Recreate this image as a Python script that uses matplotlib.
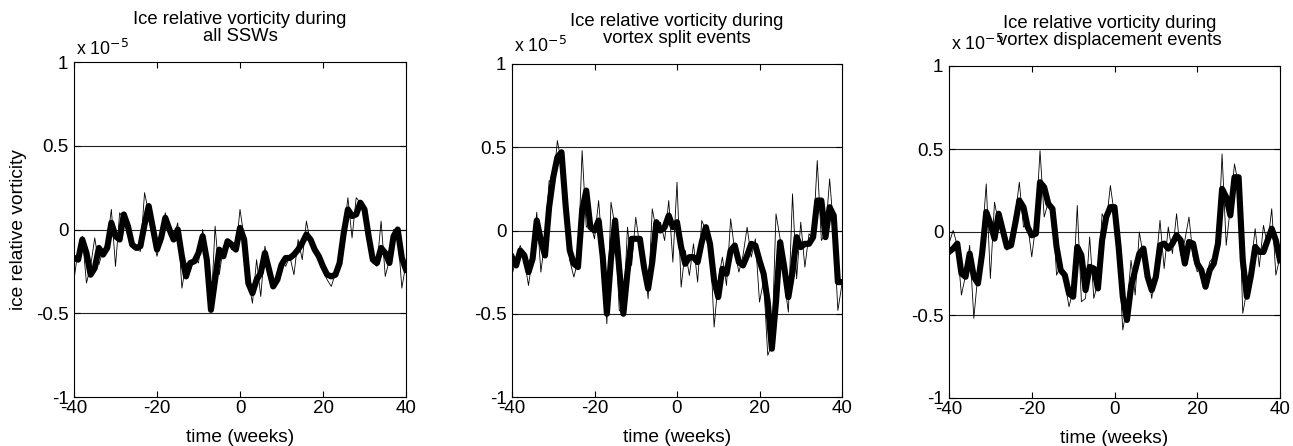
import matplotlib
matplotlib.use('Agg')
import matplotlib.pyplot as plt
import numpy as np

plt.rcParams['font.family'] = ['Liberation Sans', 'DejaVu Sans']
plt.rcParams['axes.unicode_minus'] = False

# weeks relative to the SSW central date
weeks = np.arange(-40, 41)

# all SSWs (units of 1e-5)
all_thin = [-0.30, -0.12, -0.04, -0.32, -0.22, -0.05, -0.21, -0.12, -0.08, 0.12,
            -0.22, 0.10, 0.06, -0.04, -0.10, -0.12, -0.13, 0.22, 0.10, -0.04,
            -0.16, -0.05, 0.10, -0.04, -0.05, 0.04, -0.35, -0.20, -0.25, -0.17,
            -0.20, 0.00, -0.20, -0.49, 0.02, -0.27, -0.10, -0.08, -0.12, -0.13,
            0.12, -0.05, -0.30, -0.44, -0.18, -0.40, -0.10, -0.22, -0.33, -0.30,
            -0.18, -0.22, -0.16, -0.27, -0.06, -0.18, 0.05, -0.08, -0.14, -0.18,
            -0.24, -0.30, -0.34, -0.26, -0.18, -0.02, 0.19, -0.05, 0.19, 0.16,
            0.10, -0.02, -0.20, -0.22, 0.05, -0.28, -0.18, 0.00, -0.02, -0.35,
            -0.20]
all_thick = [-0.17, -0.18, -0.06, -0.14, -0.27, -0.23, -0.11, -0.15, -0.11, 0.04,
             -0.04, -0.06, 0.09, 0.02, -0.09, -0.11, -0.10, 0.03, 0.14, 0.01,
             -0.12, -0.05, 0.07, 0.00, -0.06, 0.00, -0.16, -0.28, -0.20, -0.19,
             -0.14, -0.04, -0.18, -0.48, -0.30, -0.12, -0.16, -0.07, -0.09, -0.12,
             0.01, -0.06, -0.32, -0.38, -0.30, -0.26, -0.14, -0.24, -0.34, -0.30,
             -0.21, -0.17, -0.17, -0.15, -0.12, -0.08, -0.03, -0.06, -0.12, -0.16,
             -0.22, -0.27, -0.28, -0.27, -0.20, -0.02, 0.12, 0.08, 0.09, 0.16,
             0.12, -0.04, -0.18, -0.20, -0.11, -0.14, -0.20, -0.04, 0.00, -0.17,
             -0.24]

# vortex split events
split_thin = [-0.27, -0.16, -0.09, -0.18, -0.33, -0.15, 0.11, -0.25, -0.05, 0.30,
              0.28, 0.54, 0.40, 0.10, -0.18, -0.28, -0.18, 0.48, 0.02, 0.05,
              -0.05, 0.18, -0.14, -0.56, 0.17, 0.02, -0.48, -0.50, 0.02, -0.21,
              0.08, -0.10, -0.15, -0.41, 0.13, 0.00, 0.05, -0.06, 0.18, -0.19,
              0.29, -0.34, -0.12, -0.27, -0.08, -0.31, 0.06, 0.00, -0.05, -0.58,
              -0.30, -0.16, -0.33, 0.07, -0.12, -0.25, -0.15, 0.02, -0.16, -0.05,
              -0.43, -0.30, -0.75, -0.68, 0.10, -0.05, -0.30, -0.49, 0.22, -0.29,
              0.05, -0.22, -0.02, -0.05, 0.42, -0.06, -0.02, 0.31, 0.00, -0.48,
              -0.32]
split_thick = [-0.16, -0.21, -0.12, -0.15, -0.25, -0.17, 0.06, -0.06, -0.15, 0.14,
               0.32, 0.44, 0.47, 0.15, -0.12, -0.20, -0.22, 0.12, 0.24, 0.02,
               0.00, 0.06, -0.16, -0.50, -0.17, 0.06, -0.23, -0.50, -0.25, -0.05,
               -0.05, -0.05, -0.22, -0.35, -0.19, 0.05, 0.00, 0.02, 0.09, 0.02,
               0.05, -0.10, -0.20, -0.16, -0.16, -0.19, -0.07, 0.02, -0.08, -0.30,
               -0.40, -0.23, -0.26, -0.12, -0.09, -0.19, -0.21, -0.15, -0.08, -0.09,
               -0.18, -0.26, -0.43, -0.71, -0.43, -0.07, -0.22, -0.40, -0.25, -0.04,
               -0.10, -0.08, -0.08, -0.04, 0.18, 0.18, -0.04, 0.14, 0.09, -0.31,
               -0.31]

# vortex displacement events
disp_thin = [-0.07, 0.01, -0.08, -0.38, -0.26, -0.08, -0.52, -0.25, -0.05, 0.29,
             -0.28, 0.18, 0.05, -0.02, -0.11, -0.05, 0.10, 0.30, 0.03, 0.05,
             -0.15, 0.05, 0.49, 0.09, 0.18, 0.15, -0.26, -0.20, -0.30, -0.45,
             -0.35, 0.16, -0.42, -0.40, -0.03, -0.40, -0.30, 0.11, 0.05, 0.28,
             0.10, -0.15, -0.59, -0.45, -0.17, -0.38, 0.00, -0.15, -0.22, -0.40,
             -0.20, 0.07, -0.22, 0.03, -0.13, 0.11, -0.14, -0.05, 0.09, -0.15,
             -0.24, -0.20, -0.30, -0.18, -0.15, -0.10, 0.47, -0.08, 0.15, 0.41,
             0.28, -0.49, -0.35, -0.20, 0.02, -0.21, 0.04, -0.08, 0.14, -0.26,
             -0.15]
disp_thick = [-0.12, -0.10, -0.07, -0.25, -0.27, -0.13, -0.27, -0.31, -0.13, 0.12,
              0.05, -0.04, 0.11, 0.01, -0.09, -0.08, 0.05, 0.19, 0.15, 0.03,
              -0.02, -0.01, 0.30, 0.27, 0.17, 0.14, -0.09, -0.23, -0.26, -0.37,
              -0.39, -0.09, -0.14, -0.35, -0.21, -0.22, -0.34, -0.05, 0.09, 0.15,
              0.15, -0.09, -0.39, -0.53, -0.33, -0.23, -0.13, -0.10, -0.27, -0.35,
              -0.27, -0.08, -0.07, -0.10, -0.07, -0.02, -0.05, -0.19, -0.06, -0.07,
              -0.19, -0.23, -0.33, -0.23, -0.19, -0.07, 0.26, 0.21, 0.10, 0.33,
              0.33, -0.17, -0.39, -0.26, -0.09, -0.12, -0.12, -0.05, 0.02, -0.05,
              -0.17]

titles = ['Ice relative vorticity during\nall SSWs',
          'Ice relative vorticity during\nvortex split events',
          'Ice relative vorticity during\nvortex displacement events']
thin_series = [all_thin, split_thin, disp_thin]
thick_series = [all_thick, split_thick, disp_thick]

W, H = 1293, 446
fig = plt.figure(figsize=(W / 100, H / 100), dpi=100)

# axes boxes in pixels: left, right, top, bottom
boxes = [(74, 406, 62, 397), (512, 842, 64, 397), (949, 1280, 66, 398)]
# baseline of the "x 10^-5" label, pixels from top
offs_y = [55, 52, 50]
title_x = [0.5, 0.5, 0.485]

for i, (l, r, t, b) in enumerate(boxes):
    ax = fig.add_axes([l / W, 1 - b / H, (r - l) / W, (b - t) / H])
    for yv in (-0.5, 0, 0.5):
        ax.axhline(yv, color='#222222', lw=0.8, zorder=1)
    ax.plot(weeks, thin_series[i], color='black', lw=0.6, zorder=2)
    ax.plot(weeks, thick_series[i], color='black', lw=4.4, zorder=3,
            solid_joinstyle='round')
    ax.set_xlim(-40, 40)
    ax.set_ylim(-1, 1)
    ax.set_xticks([-40, -20, 0, 20, 40])
    ax.set_yticks([-1, -0.5, 0, 0.5, 1])
    ax.set_yticklabels(['-1', '-0.5', '0', '0.5', '1'])
    ax.tick_params(direction='in', top=True, right=True, labelsize=13.5,
                   length=4, width=0.8)
    ax.tick_params(axis='y', pad=4)
    ax.tick_params(axis='x', pad=2)
    for s in ax.spines.values():
        s.set_linewidth(0.8)
    ax.set_title(titles[i], fontsize=13.3, pad=15, linespacing=1.05,
                 x=title_x[i])
    fig.text((l + 2) / W, 1 - offs_y[i] / H, r'x 10$^{-5}$',
             fontsize=12.8, ha='left', va='baseline')
    ax.set_xlabel('time (weeks)', fontsize=13.8, labelpad=9)
    if i == 0:
        ax.set_ylabel('ice relative vorticity', fontsize=13.8, labelpad=6)

fig.savefig('out.png', dpi=100)
